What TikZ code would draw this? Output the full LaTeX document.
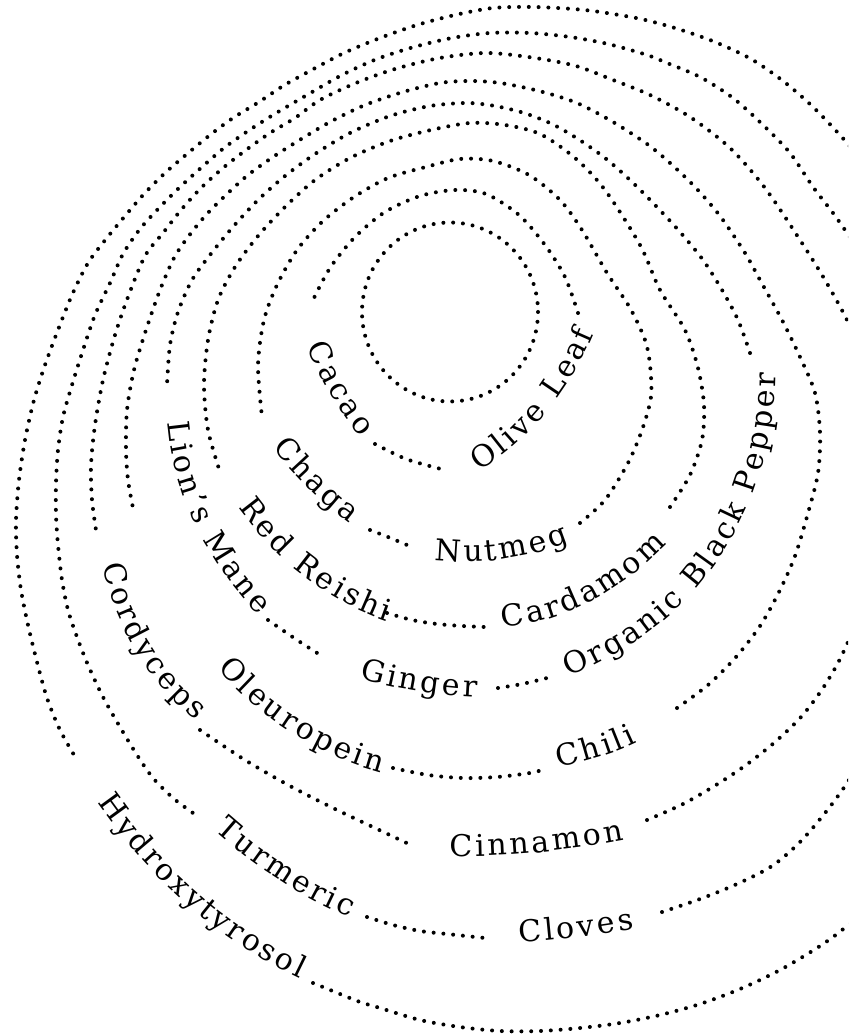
\documentclass[tikz,border=0pt]{standalone}
\usepackage{fontspec}
\usepackage{tikz}
\newfontfamily\spicefont{DejaVu Serif}
\newcommand\spicetype{\spicefont\fontsize{7.5}{8}\selectfont}
\definecolor{ringink}{HTML}{000000}
\tikzset{
  ringdots/.style={
    draw=ringink,
    line width=1pt,
    line cap=round,
    dash pattern=on 0pt off 2.45pt
  },
  spicestart/.style={inner sep=0pt, minimum size=0pt, anchor=base west},
  spicechar/.style={
    inner sep=0pt,
    minimum size=0pt,
    anchor=base west,
    text=ringink,
    font=\spicetype
  }
}
\newcommand\spicelabel[5]{%
  \node[spicestart] (#1-0) at (#2) {};
  \foreach \c [count=\i] in {#5} {
    \pgfmathtruncatemacro\j{\i-1}
    \pgfmathsetmacro\a{#3+(\i-0.5)*(#4)}
    \node[spicechar, rotate=\a] (#1-\i) at (#1-\j.base east) {\c\kern0.35pt};
  }%
}

\begin{document}
\begin{tikzpicture}[x=0.25pt,y=-0.25pt]
\useasboundingbox (0,0) rectangle (848,1034);
\clip (0,0) rectangle (848,1034);
\draw[ringdots] (450,312) ellipse [x radius=88, y radius=89.5];
\draw[ringdots] plot[smooth] coordinates {(578,313) (565,277) (545,245) (519,215) (486,194) (455,190) (420,196) (385,212) (355,237) (330,268) (312,302)};
\spicelabel{cacao}{305,346}{-68}{3.6}{C,a,c,a,o}
\draw[ringdots] plot[smooth] coordinates {(375,444) (406,459) (441,469)};
\spicelabel{olive}{477,472}{33}{3.5}{O,l,i,v,e,~,L,e,a,f}
\draw[ringdots] plot[smooth] coordinates {(580,523) (605,500) (628,463) (642,430) (651,397) (650,365) (645,340) (630,308) (607,273) (582,230) (560,200) (529,175) (493,161) (460,159) (426,167) (388,178) (354,197) (323,221) (297,250) (277,285) (264,320) (258,365) (262,417)};
\spicelabel{chaga}{270,447}{-52}{3.2}{C,h,a,g,a}
\draw[ringdots] plot[smooth] coordinates {(370,530) (388,537) (407,545)};
\spicelabel{nutmeg}{432,560}{-6}{4.7}{N,u,t,m,e,g}
\draw[ringdots] plot[smooth] coordinates {(670,507) (690,475) (702,440) (704,405) (698,368) (685,330) (660,290) (640,245) (605,190) (575,158) (540,134) (505,125) (470,123) (431,130) (390,141) (350,158) (315,180) (285,207) (258,236) (235,267) (218,300) (208,340) (204,385) (208,430) (220,472)};
\spicelabel{reishi}{236,507}{-54}{3.6}{R,e,d,~,R,e,i,s,h,i}
\draw[ringdots] plot[smooth] coordinates {(387,613) (412,620) (437,624) (462,626) (485,627)};
\spicelabel{cardamom}{500,628}{6}{5}{C,a,r,d,a,m,o,m}
\draw[ringdots] plot[smooth] coordinates {(750,353) (738,320) (722,290) (703,260) (680,232) (655,205) (630,180) (605,158) (578,139) (552,124) (524,113) (495,106) (467,103) (430,106) (390,116) (350,133) (315,154) (285,176) (258,200) (232,228) (210,255) (192,280) (178,312) (170,345) (167,385)};
\spicelabel{lionsmane}{166,422}{-85}{3.55}{L,i,o,n,’,s,~,M,a,n,e}
\draw[ringdots] plot[smooth] coordinates {(268,620) (297,640) (325,658)};
\spicelabel{ginger}{357,678}{-16}{2.33}{G,i,n,g,e,r}
\draw[ringdots] plot[smooth] coordinates {(498,688) (522,684) (547,678)};
\spicelabel{pepper}{566,677}{22}{3.4}{O,r,g,a,n,i,c,~,B,l,a,c,k,~,P,e,p,p,e,r}
\draw[ringdots] plot[smooth] coordinates {(677,708) (708,685) (736,657) (760,626) (779,592) (795,556) (808,513) (818,473) (820,433) (815,393) (800,357) (782,320) (760,280) (745,253) (720,216) (695,187) (670,163) (647,144) (613,122) (577,103) (539,91) (500,83) (470,81) (440,83) (403,92) (365,105) (330,122) (298,141) (273,157) (248,175) (227,194) (206,215) (188,237) (174,258) (160,290) (146,330) (134,370) (127,410) (126,450) (128,480) (133,508)};
\spicelabel{oleuropein}{215,668}{-49}{3.4}{O,l,e,u,r,o,p,e,i,n}
\draw[ringdots] plot[smooth] coordinates {(393,768) (428,775) (463,778) (497,777) (530,773) (542,770)};
\spicelabel{chili}{556,768}{12}{2.8}{C,h,i,l,i}
\draw[ringdots] plot[smooth] coordinates {(647,820) (683,804) (716,785) (746,765) (775,742) (801,717) (823,688) (842,655) (860,610) (876,540) (880,470) (875,400) (862,355) (847,320) (825,280) (800,240) (765,188) (730,148) (690,117) (650,95) (613,80) (576,66) (535,58) (487,53) (440,58) (395,69) (356,83) (320,100) (295,118) (270,133) (246,150) (223,168) (201,188) (181,210) (163,233) (145,256) (128,297) (115,335) (103,380) (95,425) (91,465) (92,500) (96,530)};
\spicelabel{cordyceps}{101,565}{-78}{4.4}{C,o,r,d,y,c,e,p,s}
\draw[ringdots] plot[smooth] coordinates {(200,730) (245,760) (290,786) (335,809) (375,828) (413,846)};
\spicelabel{cinnamon}{447,856}{-1}{1.5}{C,i,n,n,a,m,o,n}
\draw[ringdots] plot[smooth] coordinates {(662,912) (700,899) (737,884) (772,866) (800,842) (825,813) (847,783) (872,740) (900,660) (915,560) (915,460) (905,370) (885,300) (865,260) (847,233) (833,213) (813,187) (790,153) (763,125) (733,98) (700,77) (667,63) (647,55) (608,44) (570,37) (530,33) (490,33) (452,38) (414,47) (377,59) (342,75) (307,95) (273,115) (248,131) (224,148) (202,167) (180,187) (159,208) (140,229) (123,254) (110,283) (95,315) (83,350) (72,385) (63,417) (58,450) (56,483) (56,515) (58,545) (62,580) (68,610) (77,637) (88,665) (103,697) (120,727) (137,755) (153,778) (173,798) (193,813)};
\spicelabel{turmeric}{212,830}{-42}{2.5}{T,u,r,m,e,r,i,c}
\draw[ringdots] plot[smooth] coordinates {(367,917) (393,925) (420,931) (447,934) (485,938)};
\spicelabel{cloves}{517,943}{4}{1}{C,l,o,v,e,s}
\draw[ringdots] plot[smooth] coordinates {(313,983) (340,994) (360,1002) (380,1008) (420,1020) (460,1027) (500,1031) (540,1031) (580,1028) (620,1023) (660,1015) (700,1004) (740,989) (780,970) (820,946) (848,925) (890,885) (935,800) (960,680) (965,560) (955,430) (935,320) (910,240) (880,185) (847,143) (813,107) (783,81) (751,59) (715,42) (678,29) (641,19) (600,12) (573,9) (533,7) (493,8) (455,15) (417,25) (380,38) (344,53) (308,72) (283,86) (259,102) (233,118) (210,135) (187,154) (165,173) (144,194) (125,216) (106,239) (88,263) (72,295) (58,330) (45,365) (34,400) (25,440) (19,480) (16,520) (17,555) (21,590) (28,625) (37,662) (47,698) (60,730) (77,760)};
\spicelabel{hydroxy}{95,802}{-55}{2.14}{H,y,d,r,o,x,y,t,y,r,o,s,o,l}
\end{tikzpicture}
\end{document}
